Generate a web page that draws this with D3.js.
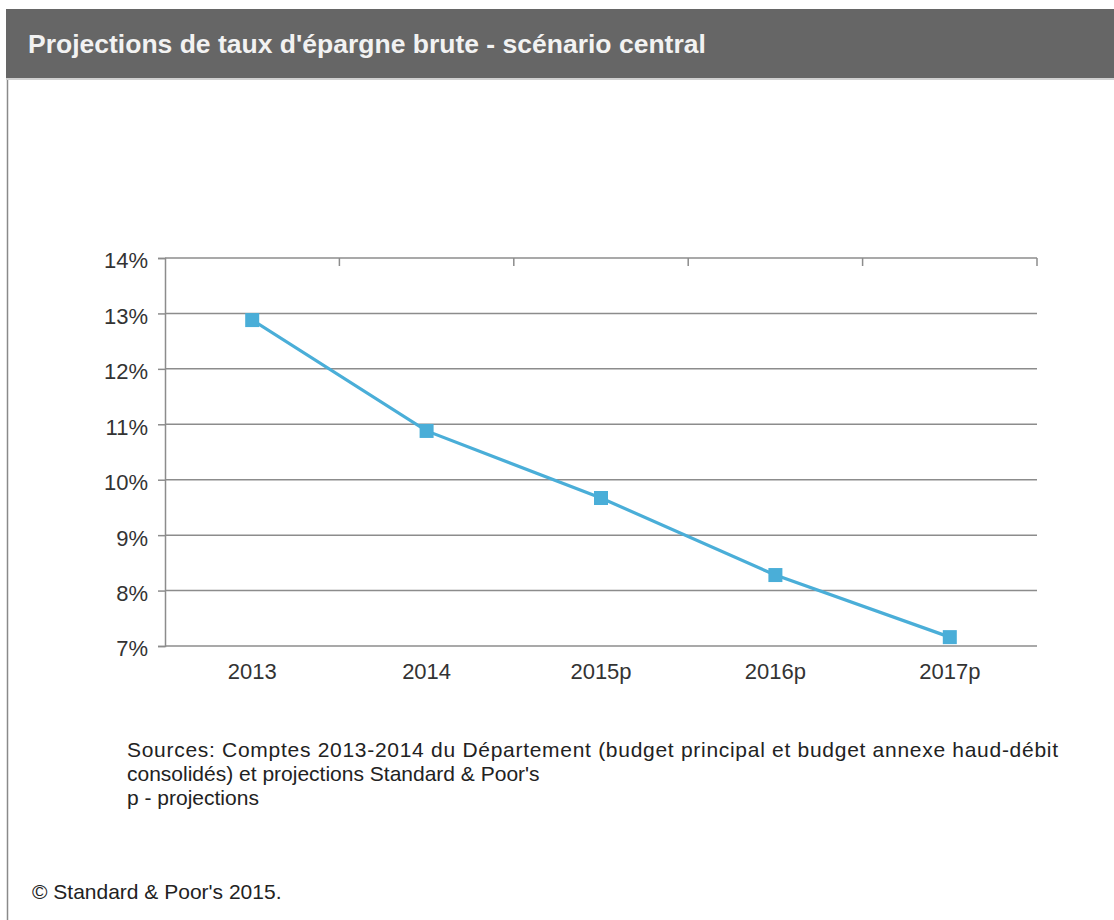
<!DOCTYPE html>
<meta charset="utf-8">
<script src="https://cdn.jsdelivr.net/npm/d3@7"></script>
<style>
body{margin:0; background:#fff;}
svg text{font-family:"Liberation Sans", Arial, sans-serif;}
.title{fill:#f2f2f2; font-size:26.5px; font-weight:bold;}
.axis text{fill:#333; font-size:22px;}
.note{fill:#222; font-size:21px;}
</style>
<div id="vis"></div>
<script>

// Data
const years = ["2013", "2014", "2015p", "2016p", "2017p"];
const rates = [12.88, 10.88, 9.67, 8.28, 7.16];
const yTicks = [7, 8, 9, 10, 11, 12, 13, 14];

const w = 1114, h = 920;
const margin = {top: 258, left: 165};
const width = 1037 - 165, height = 646 - 258;
const color = "#4aaed8";

let svg = d3.select("#vis").append("svg")
    .attr("width", w)
    .attr("height", h);

// frame + title bar
svg.append("line")
    .attr("x1", 7.5).attr("x2", 7.5).attr("y1", 78).attr("y2", h)
    .attr("stroke", "#8a8a8a").attr("stroke-width", 1.5);
svg.append("rect")
    .attr("x", 6).attr("y", 9).attr("width", w - 6).attr("height", 69)
    .attr("fill", "#666");
svg.append("rect")
    .attr("x", 6).attr("y", 78).attr("width", w - 6).attr("height", 2)
    .attr("fill", "#d0d0d0");
svg.append("text").attr("class", "title")
    .attr("x", 28).attr("y", 53)
    .text("Projections de taux d'épargne brute - scénario central");

let g = svg.append("g")
    .attr("transform", "translate(" + margin.left + "," + margin.top + ")");

let x = d3.scaleBand().domain(years).range([0, width]);
let y = d3.scaleLinear().domain([7, 14]).range([height, 0]);

// gridlines
g.selectAll(".grid")
  .data(yTicks)
  .enter().append("line")
    .attr("class", "grid")
    .attr("x1", 0).attr("x2", width)
    .attr("y1", d => y(d)).attr("y2", d => y(d))
    .attr("stroke", "#8c8c8c").attr("stroke-width", 1.5);

// small ticks at the top line, on band boundaries
g.selectAll(".ttick")
  .data(years)
  .enter().append("line")
    .attr("class", "ttick")
    .attr("x1", d => x(d) + x.bandwidth()).attr("x2", d => x(d) + x.bandwidth())
    .attr("y1", 0).attr("y2", 8)
    .attr("stroke", "#8c8c8c").attr("stroke-width", 1.5);

// y axis
let yAxis = g.append("g")
    .attr("class", "axis")
    .call(d3.axisLeft(y).tickValues(yTicks).tickSize(7).tickPadding(10)
      .tickFormat(d => d + "%"));
yAxis.select(".domain").attr("stroke", "#8c8c8c").attr("stroke-width", 1.5);
yAxis.selectAll(".tick line").attr("stroke", "#8c8c8c").attr("stroke-width", 1.5);
yAxis.selectAll(".tick text").attr("dy", "0.45em");

// x axis labels
let xAxis = g.append("g")
    .attr("class", "axis")
    .attr("transform", "translate(0," + height + ")")
    .call(d3.axisBottom(x).tickSize(0).tickPadding(17));
xAxis.select(".domain").remove();

// line
const pts = years.map((d, i) => ({year: d, v: rates[i]}));
g.append("path")
    .datum(pts)
    .attr("fill", "none")
    .attr("stroke", color)
    .attr("stroke-width", 3.2)
    .attr("d", d3.line()
      .x(d => x(d.year) + x.bandwidth() / 2)
      .y(d => y(d.v)));

g.selectAll(".marker")
  .data(pts)
  .enter().append("rect")
    .attr("class", "marker")
    .attr("x", d => x(d.year) + x.bandwidth() / 2 - 7)
    .attr("y", d => y(d.v) - 7)
    .attr("width", 14).attr("height", 14)
    .attr("fill", color);

// notes
svg.append("text").attr("class", "note")
    .attr("x", 127).attr("y", 757)
    .attr("textLength", 931).attr("lengthAdjust", "spacing")
    .text("Sources: Comptes 2013-2014 du Département (budget principal et budget annexe   haud-débit");
svg.append("text").attr("class", "note")
    .attr("x", 127).attr("y", 781)
    .text("consolidés) et projections Standard & Poor's");
svg.append("text").attr("class", "note")
    .attr("x", 127).attr("y", 805)
    .text("p - projections");
svg.append("text").attr("class", "note")
    .attr("x", 32).attr("y", 899)
    .text("© Standard & Poor's 2015.");

</script>
